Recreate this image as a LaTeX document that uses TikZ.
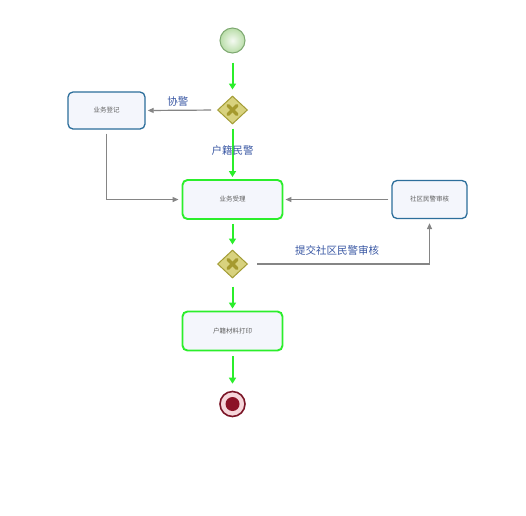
\documentclass[tikz,border=0pt]{standalone}
\usepackage{fontspec}
\newfontfamily\cjk{Noto Sans CJK SC}
\usetikzlibrary{shapes.geometric,arrows.meta,calc}
\definecolor{flowgreen}{HTML}{2BEE2B}
\definecolor{boxblue}{HTML}{2C6E9B}
\definecolor{boxfill}{HTML}{F4F6FC}
\definecolor{textgray}{HTML}{606060}
\definecolor{labelblue}{HTML}{3A58A4}
\definecolor{gwfill}{HTML}{D8D27E}
\definecolor{gwdraw}{HTML}{A39C35}
\definecolor{gwx}{HTML}{A59A2E}
\definecolor{startdraw}{HTML}{7DA870}
\definecolor{startouter}{HTML}{B9DDA8}
\definecolor{enddraw}{HTML}{7A1426}
\definecolor{endfill}{HTML}{8C1226}
\definecolor{endring}{HTML}{F6D6DA}
\definecolor{grayline}{HTML}{858585}
\begin{document}
\begin{tikzpicture}[x=1pt,y=-1pt,
  task/.style={draw=boxblue, line width=1.3pt, fill=boxfill, rounded corners=5pt,
    inner sep=0pt, font=\cjk\fontsize{6.5}{7}\selectfont, text=textgray},
  gtask/.style={task, draw=flowgreen, line width=1.9pt},
  gateway/.style={diamond, draw=gwdraw, line width=1pt, fill=gwfill, inner sep=0pt,
    minimum width=30pt, minimum height=28pt},
  greenarrow/.style={draw=flowgreen, line width=2pt, -{Triangle[length=6pt,width=7pt]}},
  grayarrow/.style={draw=grayline, line width=1.2pt, -{Triangle[length=6pt,width=5pt]}},
  lbl/.style={font=\cjk\fontsize{10.5}{12}\selectfont, text=labelblue, inner sep=0pt}]
\useasboundingbox (0,0) rectangle (526,515);
\fill[white] (0,0) rectangle (526,515);

% events
\node[circle, draw=startdraw, line width=1pt, minimum size=25pt, inner sep=0pt,
  inner color=white!85!startouter, outer color=startouter] (start) at (232.5,40.5) {};
\node[circle, draw=enddraw, line width=1.6pt, fill=endring, minimum size=25pt, inner sep=0pt] (end) at (232.5,404) {};
\node[circle, fill=endfill, minimum size=14pt, inner sep=0pt] (endcore) at (232.5,404) {};

% gateways
\node[gateway] (gw1) at (232.5,110) {};
\node[gateway] (gw2) at (232.5,264) {};
\foreach \g in {gw1,gw2}{
  \draw[gwx, line width=3.4pt, line cap=round] ($(\g)+(-4.5,-4.5)$) -- ($(\g)+(4.5,4.5)$);
  \draw[gwx, line width=3.4pt, line cap=round] ($(\g)+(-4.5,4.5)$) -- ($(\g)+(4.5,-4.5)$);
}

% tasks
\node[task, minimum width=77pt, minimum height=37pt] (reg) at (106.5,110.5) {业务登记};
\node[gtask, minimum width=100pt, minimum height=39pt] (accept) at (232.5,199.5) {业务受理};
\node[task, minimum width=75pt, minimum height=38pt] (review) at (429.5,199.5) {社区民警审核};
\node[gtask, minimum width=100pt, minimum height=39pt] (print) at (232.5,331) {户籍材料打印};

% flows
\draw[greenarrow, shorten <=9pt, shorten >=6pt] (start) -- (gw1);
\draw[grayarrow, shorten <=6pt, shorten >=2pt] (gw1.west) -- (reg.east)
  node[lbl, pos=0.55, above=3.5pt] (l1) {协警};
\draw[greenarrow, shorten <=4pt, shorten >=2pt] (gw1.south) -- (accept.north)
  node[lbl, pos=0.48] (l2) {户籍民警};
\draw[grayarrow, shorten <=4pt, shorten >=3pt] (reg.south) |- (accept.west);
\draw[grayarrow, shorten <=3pt, shorten >=2pt] (review.west) -- (accept.east);
\draw[greenarrow, shorten <=4pt, shorten >=5pt] (accept.south) -- (gw2.north);
\draw[grayarrow, shorten <=9pt, shorten >=4pt] (gw2.east) -| (review.south);
\node[lbl] (l3) at (337,250.5) {提交社区民警审核};
\draw[greenarrow, shorten <=8pt, shorten >=2pt] (gw2.south) -- (print.north);
\draw[greenarrow, shorten <=5pt, shorten >=7pt] (print.south) -- (end.north);
\end{tikzpicture}
\end{document}
